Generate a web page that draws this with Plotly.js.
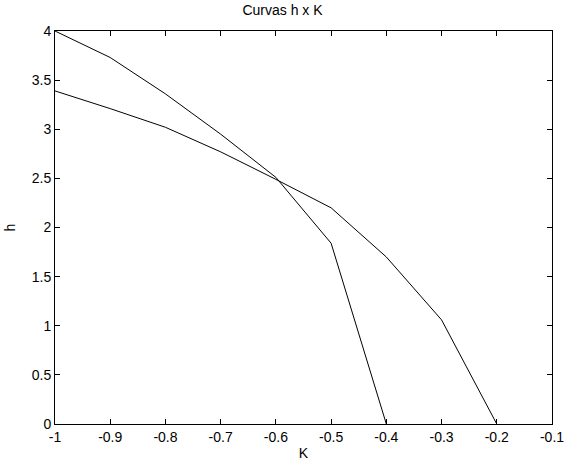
<!DOCTYPE html>
<html>
<head>
<meta charset="utf-8">
<script src="https://cdn.plot.ly/plotly-3.0.1.min.js"></script>
<style>html,body{margin:0;padding:0;background:#fff;}#chart{width:565px;height:461px;}</style>
</head>
<body>
<div id="chart"></div>
<script>
const k1 = [-1, -0.9, -0.8, -0.7, -0.6, -0.5, -0.4];
const h1 = [4.0, 3.73, 3.36, 2.95, 2.51, 1.84, 0];
const k2 = [-1, -0.9, -0.8, -0.7, -0.6, -0.5, -0.4, -0.3, -0.2];
const h2 = [3.39, 3.21, 3.02, 2.77, 2.49, 2.2, 1.7, 1.06, 0];
const xTicks = [-1, -0.9, -0.8, -0.7, -0.6, -0.5, -0.4, -0.3, -0.2, -0.1];
const xTickText = ['-1', '-0.9', '-0.8', '-0.7', '-0.6', '-0.5', '-0.4', '-0.3', '-0.2', '-0.1'];
const yTicks = [0, 0.5, 1, 1.5, 2, 2.5, 3, 3.5, 4];
const yTickText = ['0', '0.5', '1', '1.5', '2', '2.5', '3', '3.5', '4'];

const lineStyle = {color: '#000', width: 1};
const traces = [
  {x: k1, y: h1, type: 'scatter', mode: 'lines', line: lineStyle, hoverinfo: 'none', cliponaxis: false},
  {x: k2, y: h2, type: 'scatter', mode: 'lines', line: lineStyle, hoverinfo: 'none', cliponaxis: false}
];
const font = {family: 'Liberation Sans, Arial, sans-serif', size: 14, color: '#000'};
const axisCommon = {
  showgrid: false, zeroline: false, showline: true, linecolor: '#000', linewidth: 1,
  mirror: 'ticks', ticks: 'inside', ticklen: 5, tickwidth: 1, tickcolor: '#000',
  tickfont: font, tickmode: 'array', ticklabeloverflow: 'allow'
};
const layout = {
  width: 565, height: 461,
  margin: {l: 55, r: 13, t: 31, b: 37},
  paper_bgcolor: '#fff', plot_bgcolor: '#fff',
  showlegend: false,
  font: font,
  title: {text: 'Curvas h x K', font: font, x: 0.5, xanchor: 'center', y: 1, yanchor: 'top', pad: {t: 5}},
  xaxis: Object.assign({}, axisCommon, {
    range: [-1.00001, -0.09999], tickvals: xTicks, ticktext: xTickText,
    title: {text: 'K', font: font, standoff: 4}
  }),
  yaxis: Object.assign({}, axisCommon, {
    range: [0, 4.00001], tickvals: yTicks, ticktext: yTickText,
    title: {text: 'h', font: font, standoff: 12}
  })
};
Plotly.newPlot('chart', traces, layout, {staticPlot: true, displayModeBar: false});
</script>
</body>
</html>
